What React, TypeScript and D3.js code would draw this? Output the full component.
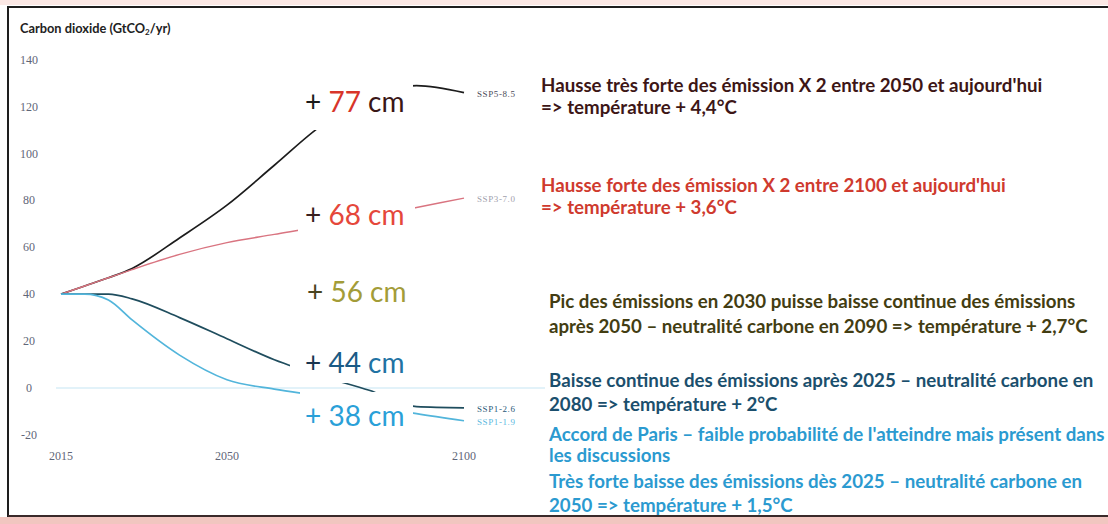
import * as d3 from "d3";

// scenario trajectories, GtCO2/yr
const years = [2015, 2020, 2025, 2030, 2040, 2050, 2060, 2070, 2080, 2090, 2100];
const ssp585 = [40, 43.5, 47, 51, 64, 78, 95, 112, 123, 129, 126];
const ssp370 = [40, 43.5, 47, 50.5, 57, 62, 65.5, 69, 73, 77, 81];
const ssp126 = [40, 40, 40, 38, 30, 21, 12, 5, -1, -8, -8.5];
const ssp119 = [40, 40, 37.5, 29, 14, 3.5, -0.5, -3.5, -7, -11, -14];

const seriesNames = ["SSP5-8.5", "SSP3-7.0", "SSP1-2.6", "SSP1-1.9"];
const yTicks = [-20, 0, 20, 40, 60, 80, 100, 120, 140];
const xTicks = [2015, 2050, 2100];

const riseCm = [77, 68, 56, 44, 38];

const notes = [
  ["Hausse très forte des émission X 2 entre 2050 et aujourd'hui", "=> température + 4,4°C"],
  ["Hausse forte des émission X 2 entre 2100 et aujourd'hui", "=> température + 3,6°C"],
  ["Pic des émissions en 2030 puisse baisse continue des émissions", "après 2050 – neutralité carbone en 2090 => température + 2,7°C"],
  ["Baisse continue des émissions après 2025 – neutralité carbone en", "2080 => température + 2°C"],
  ["Accord de Paris – faible probabilité de l'atteindre mais présent dans", "les discussions"],
  ["Très forte baisse des émissions dès 2025 – neutralité carbone en", "2050 => température + 1,5°C"],
];

const W = 1108;
const H = 524;

const lineColors = ["#1c1c1c", "#d97480", "#1f4d5e", "#52b5db"];
const labelColors = ["#4a4a58", "#a0a0ac", "#2a5a78", "#5cb9e0"];

// colours of the "+ NN cm" labels: [plus, number, unit]
const riseColors = [
  ["#1a1a1a", "#d8352a", "#3a1616"],
  ["#3a2020", "#e5473b", "#e5473b"],
  ["#4a4520", "#a39c38", "#a39c38"],
  ["#1a3550", "#1a5a85", "#2172a3"],
  ["#2aa0d8", "#2aa0d8", "#2aa0d8"],
];
const riseX = [305, 305, 307, 305, 305];
const riseY = [112, 225, 302, 373, 426];
// white boxes behind the labels (they hide the curves)
const riseBox = [
  [298, 78, 115, 52],
  [298, 190, 117, 50],
  [298, 275, 112, 36],
  [290, 345, 120, 38],
  [300, 392, 113, 40],
];

const noteColors = ["#3d1616", "#cf3a2e", "#433d12", "#1b4f6d", "#2b9ad0", "#2b9ad0"];
const noteX = [541, 541, 549, 549, 549, 549];
const noteY = [
  [92, 114],
  [192, 214],
  [308, 333],
  [387, 411],
  [441, 462],
  [488, 512],
];

export default function App() {
  const x = d3.scaleLinear().domain([2015, 2100]).range([61, 464]);
  const y = d3.scaleLinear().domain([-20, 140]).range([434.8, 59.8]);

  const series = [ssp585, ssp370, ssp126, ssp119].map((vals, i) => ({
    name: seriesNames[i],
    pts: years.map((yr, j) => [yr, vals[j]] as [number, number]),
  }));

  const line = d3
    .line<[number, number]>()
    .x((d) => x(d[0]))
    .y((d) => y(d[1]))
    .curve(d3.curveMonotoneX);

  const font = "Lato, 'Open Sans', sans-serif";

  return (
    <div style={{ position: "fixed", left: 0, top: 0 }}>
      <svg width={W} height={H} style={{ display: "block", background: "#fff" }}>
        <rect x={0} y={0} width={W} height={5} fill="#fbe8e5" />
        <rect x={0} y={517} width={W} height={7} fill="#f1c6c0" />

        {/* title */}
        <text x={20} y={33} fontFamily={font} fontWeight="bold" fontSize={12.8} fill="#222">
          Carbon dioxide (GtCO<tspan fontSize={8} dy={2}>2</tspan>
          <tspan dy={-2}>/yr)</tspan>
        </text>

        {/* y tick labels */}
        {yTicks.map((t) => (
          <text
            key={t}
            x={29}
            y={y(t) + 4}
            textAnchor="middle"
            fontFamily="'Liberation Serif', serif"
            fontSize={12}
            fill="#5f6678"
          >
            {t}
          </text>
        ))}

        {/* x tick labels */}
        {xTicks.map((t) => (
          <text
            key={t}
            x={x(t)}
            y={460}
            textAnchor="middle"
            fontFamily="'Liberation Serif', serif"
            fontSize={12}
            fill="#5f6678"
          >
            {t}
          </text>
        ))}

        {/* faint zero line */}
        <line x1={56} x2={545} y1={y(0)} y2={y(0)} stroke="#e2f2f9" strokeWidth={2} />

        {series.map((s, i) => (
          <path
            key={s.name}
            d={line(s.pts) ?? ""}
            fill="none"
            stroke={lineColors[i]}
            strokeWidth={i === 1 ? 1.4 : 1.7}
          />
        ))}

        {/* scenario names at line ends */}
        {series.map((s, i) => (
          <text
            key={s.name}
            x={x(2100) + 13}
            y={y(s.pts[s.pts.length - 1][1]) + 4}
            fontFamily="'Liberation Serif', serif"
            fontSize={9}
            letterSpacing={0.6}
            fill={labelColors[i]}
          >
            {s.name}
          </text>
        ))}

        {/* sea level rise labels */}
        {riseCm.map((v, i) => {
          const [bx, by, bw, bh] = riseBox[i];
          const c = riseColors[i];
          return (
            <g key={v}>
              <rect x={bx} y={by} width={bw} height={bh} fill="#fff" />
              <text x={riseX[i]} y={riseY[i]} fontFamily={font} fontSize={28}>
                <tspan fill={c[0]}>+ </tspan>
                <tspan fill={c[1]}>{v} </tspan>
                <tspan fill={c[2]}>cm</tspan>
              </text>
            </g>
          );
        })}

        {/* scenario descriptions */}
        {notes.map((lines, i) => (
          <text key={i} fontFamily={font} fontWeight="bold" fontSize={18.7} fill={noteColors[i]}>
            {lines.map((l, j) => (
              <tspan key={j} x={noteX[i]} y={noteY[i][j]}>
                {l}
              </tspan>
            ))}
          </text>
        ))}

        {/* frame of the scan */}
        <line x1={8} x2={W} y1={7} y2={7} stroke="#1e1e1e" strokeWidth={2} />
        <line x1={8} x2={8} y1={6} y2={517} stroke="#1e1e1e" strokeWidth={2} />
        <line x1={8} x2={W} y1={516} y2={516} stroke="#3a2a2a" strokeWidth={2} />
      </svg>
    </div>
  );
}
